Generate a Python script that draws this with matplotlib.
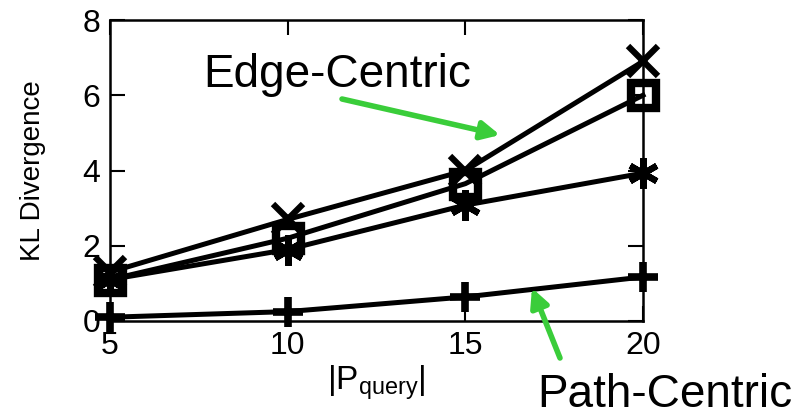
import matplotlib
matplotlib.use("Agg")
import matplotlib.pyplot as plt

plt.rcParams['font.family'] = ['Liberation Sans', 'DejaVu Sans']

x_vals = [5, 10, 15, 20]
series_x = [1.3, 2.7, 4.0, 6.9]
series_square = [1.1, 2.2, 3.65, 6.0]
series_star = [1.1, 1.9, 3.08, 3.93]
series_plus = [0.1, 0.25, 0.64, 1.17]
x_ticks = [5, 10, 15, 20]
y_ticks = [0, 2, 4, 6, 8]

fig = plt.figure(figsize=(8.06, 4.18), dpi=100)
ax = fig.add_axes([110/806, (418-321)/418, (643-110)/806, (321-20)/418])

lw = 3.6
ax.plot(x_vals, series_x, color='black', lw=lw, marker='x', ms=22, mew=4.5, clip_on=False, zorder=3)
ax.plot(x_vals, series_square, color='black', lw=lw, marker='s', ms=18, mew=6,
        mfc='none', mec='black', clip_on=False, zorder=3)
ax.plot(x_vals, series_star, color='black', lw=lw, marker=(6, 2, 0), ms=22, mew=4.5, clip_on=False, zorder=3)
ax.plot(x_vals, series_plus, color='black', lw=lw, marker='+', ms=22, mew=5.5, clip_on=False, zorder=3)

ax.set_xlim(5, 20)
ax.set_ylim(0, 8)
ax.set_xticks(x_ticks)
ax.set_yticks(y_ticks)
ax.tick_params(direction='in', length=11, width=1.5, labelsize=23,
               top=True, right=True, pad=7)
for s in ax.spines.values():
    s.set_linewidth(1.8)

ax.set_ylabel('KL Divergence', fontsize=20, labelpad=26)
ax.set_xlabel(r'|P$_{\mathregular{query}}$|', fontsize=24, labelpad=2)

green = '#3acd3a'
fig.text(203/806, (418-87)/418, 'Edge-Centric', fontsize=33, ha='left', va='baseline')
fig.text(537/806, (418-407)/418, 'Path-Centric', fontsize=33, ha='left', va='baseline')

ax.annotate('', xy=(500/806, (418-135)/418), xycoords='figure fraction',
            xytext=(342/806, (418-99)/418), textcoords='figure fraction',
            arrowprops=dict(arrowstyle='-|>,head_length=1.1,head_width=0.55', color=green, lw=4,
                            shrinkA=0, shrinkB=0))
ax.annotate('', xy=(532/806, (418-288)/418), xycoords='figure fraction',
            xytext=(560/806, (418-358)/418), textcoords='figure fraction',
            arrowprops=dict(arrowstyle='-|>,head_length=1.1,head_width=0.55', color=green, lw=4,
                            shrinkA=0, shrinkB=0))

fig.savefig('out.png', dpi=100)
